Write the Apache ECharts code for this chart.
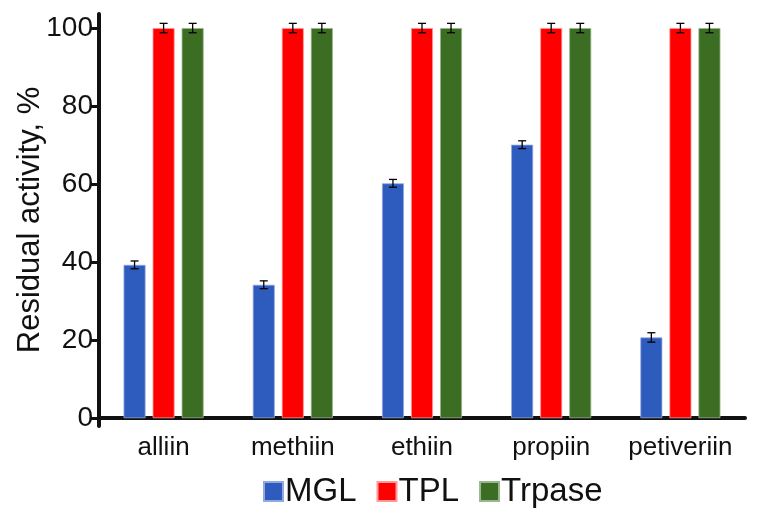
<!DOCTYPE html>
<html>
<head>
<meta charset="utf-8">
<script src="https://cdn.jsdelivr.net/npm/echarts@6/dist/echarts.min.js"></script>
<style>
  html, body { margin: 0; padding: 0; background: #fff; }
  #chart { width: 757px; height: 514px; }
</style>
</head>
<body>
<div id="chart"></div>
<script>
// data
const categories = ['alliin', 'methiin', 'ethiin', 'propiin', 'petiveriin'];
const seriesNames = ['MGL', 'TPL', 'Trpase'];
const mglValues = [39.3, 34.2, 60.2, 70.1, 20.7];
const tplValues = [100, 100, 100, 100, 100];
const trpaseValues = [100, 100, 100, 100, 100];
const mglErrors = [1.0, 1.0, 1.0, 1.0, 1.2];
const tplErrors = [1.2, 1.2, 1.2, 1.2, 1.2];
const trpaseErrors = [1.2, 1.2, 1.2, 1.2, 1.2];
const yTicks = [0, 20, 40, 60, 80, 100];

const colors = ['#2e5bbe', '#ff0000', '#3b6e23'];
const edgeColors = ['#93a9dc', '#ff9a9a', '#9bb58f'];
const barWidth = 22;
const barGapPct = 32;
const step = barWidth * (1 + barGapPct / 100);

const allValues = [mglValues, tplValues, trpaseValues];
const allErrors = [mglErrors, tplErrors, trpaseErrors];

const chart = echarts.init(document.getElementById('chart'));

function errorSeries(k) {
  const data = allValues[k].map((v, i) => [i, v - allErrors[k][i], v + allErrors[k][i]]);
  return {
    type: 'custom',
    name: seriesNames[k] + ' err',
    z: 5,
    silent: true,
    data: data,
    renderItem: (params, api) => {
      const lo = api.coord([api.value(0), api.value(1)]);
      const hi = api.coord([api.value(0), api.value(2)]);
      const x = lo[0] + (k - 1) * step;
      const cap = 4;
      const style = { stroke: '#000', lineWidth: 1.3 };
      return {
        type: 'group',
        children: [
          { type: 'line', shape: { x1: x, y1: lo[1], x2: x, y2: hi[1] }, style: style },
          { type: 'line', shape: { x1: x - cap, y1: lo[1], x2: x + cap, y2: lo[1] }, style: style },
          { type: 'line', shape: { x1: x - cap, y1: hi[1], x2: x + cap, y2: hi[1] }, style: style }
        ]
      };
    }
  };
}

const barSeries = seriesNames.map((name, k) => ({
  name: name,
  type: 'bar',
  data: allValues[k],
  barWidth: barWidth,
  barGap: barGapPct + '%',
  itemStyle: { color: colors[k], borderColor: edgeColors[k], borderWidth: 0.8 }
}));

chart.setOption({
  animation: false,
  textStyle: { fontFamily: 'Liberation Sans, Arial, sans-serif' },
  legend: {
    data: seriesNames,
    left: 258,
    top: 470,
    itemWidth: 19,
    itemHeight: 19,
    itemGap: 20,
    icon: 'rect',
    textStyle: { fontSize: 33, color: '#111', padding: [0, 0, 0, -3] }
  },
  grid: { left: 99, right: 12, top: 14, bottom: 88, outerBoundsMode: 'none', containLabel: false },
  xAxis: {
    type: 'category',
    data: categories,
    axisLine: { onZero: true, lineStyle: { color: '#111', width: 4 } },
    axisTick: { show: false },
    axisLabel: { fontSize: 26, color: '#111', margin: 9, interval: 0 }
  },
  yAxis: {
    type: 'value',
    min: -2,
    max: 103.6,
    name: 'Residual activity, %',
    nameLocation: 'middle',
    nameGap: 53,
    nameMoveOverlap: false,
    nameTextStyle: { fontSize: 31, color: '#111' },
    splitLine: { show: false },
    axisLine: { show: true, lineStyle: { color: '#111', width: 4 } },
    axisTick: { show: true, length: 8, lineStyle: { width: 3, color: '#111' }, customValues: yTicks },
    axisLabel: { fontSize: 28, color: '#111', margin: 6, customValues: yTicks }
  },
  series: barSeries.concat([0, 1, 2].map(errorSeries))
});
</script>
</body>
</html>
